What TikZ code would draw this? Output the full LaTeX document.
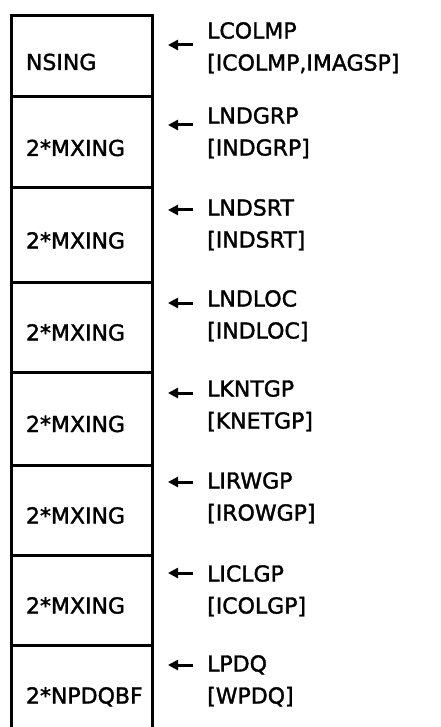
\documentclass[tikz,border=0pt]{standalone}
\usepackage{fontspec}
\setmainfont{DejaVu Sans}
\newfontfamily\diagfont{DejaVu Sans}[FakeBold=1.6]
\usetikzlibrary{positioning,arrows.meta,calc}

\begin{document}
\begin{tikzpicture}[
    x=1pt, y=-1pt,
    node distance=0pt,
    cell/.style={draw, line width=3pt, outer sep=0pt, minimum width=141pt, text width=111pt, inner xsep=15pt, inner ysep=0pt, text height=27pt, text depth=0pt, align=left, font=\diagfont\fontsize{22}{26}\selectfont},
    lbl/.style={anchor=north west, inner sep=0pt, align=left, font=\diagfont\fontsize{22}{32}\selectfont},
    arr/.style={-{Triangle[length=10pt, width=10pt]}, line width=3pt, shorten >=16pt}
  ]
    \useasboundingbox (0,0) rectangle (440,727);

    % storage blocks
    \node[cell, minimum height=81pt, anchor=north west] (c1) at (11,16) {NSING};
    \node[cell, minimum height=91pt, below=of c1] (c2) {2*MXING};
    \node[cell, minimum height=94pt, below=of c2] (c3) {2*MXING};
    \node[cell, minimum height=90pt, below=of c3] (c4) {2*MXING};
    \node[cell, minimum height=93pt, below=of c4] (c5) {2*MXING};
    \node[cell, minimum height=90pt, below=of c5] (c6) {2*MXING};
    \node[cell, minimum height=90pt, below=of c6] (c7) {2*MXING};
    \node[cell, draw=none, minimum height=90pt, below=of c7] (c8) {2*NPDQBF};
    \draw[line width=3pt] (c8.south west) -- (c8.north west) -- (c8.north east) -- (c8.south east);

    % pointers
    \node[lbl] (l1) at (207,22) {LCOLMP\\{[}ICOLMP,IMAGSP]};
    \node[lbl] (l2) at (207,107) {LNDGRP\\{[}INDGRP]};
    \node[lbl] (l3) at (207,199) {LNDSRT\\{[}INDSRT]};
    \node[lbl] (l4) at (207,290) {LNDLOC\\{[}INDLOC]};
    \node[lbl] (l5) at (207,380) {LKNTGP\\{[}KNETGP]};
    \node[lbl] (l6) at (207,472) {LIRWGP\\{[}IROWGP]};
    \node[lbl] (l7) at (207,565) {LICLGP\\{[}ICOLGP]};
    \node[lbl] (l8) at (207,655) {LPDQ\\{[}WPDQ]};

    \coordinate (a1) at (193,45);
    \coordinate (a2) at (193,125);
    \coordinate (a3) at (193,210);
    \coordinate (a4) at (193,303);
    \coordinate (a5) at (193,393);
    \coordinate (a6) at (193,482);
    \coordinate (a7) at (193,573);
    \coordinate (a8) at (193,665);

    \draw[arr] (a1) -- (a1 -| c1.east);
    \draw[arr] (a2) -- (a2 -| c2.east);
    \draw[arr] (a3) -- (a3 -| c3.east);
    \draw[arr] (a4) -- (a4 -| c4.east);
    \draw[arr] (a5) -- (a5 -| c5.east);
    \draw[arr] (a6) -- (a6 -| c6.east);
    \draw[arr] (a7) -- (a7 -| c7.east);
    \draw[arr] (a8) -- (a8 -| c8.east);
  \end{tikzpicture}
\end{document}
